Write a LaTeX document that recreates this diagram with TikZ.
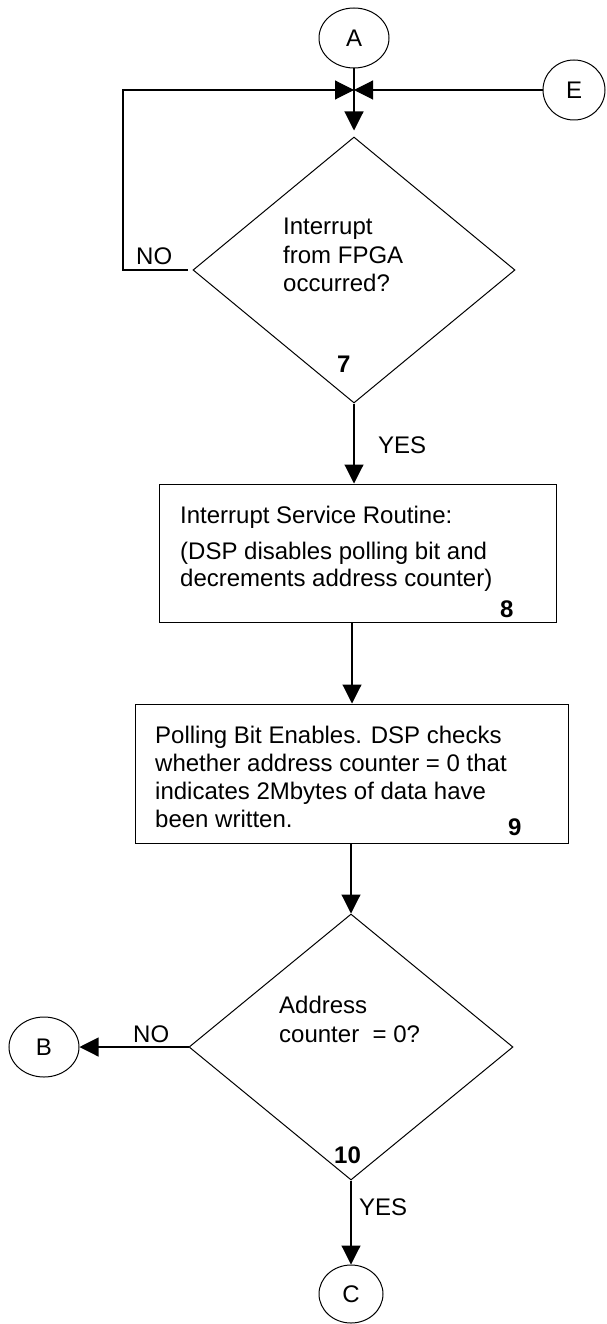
\documentclass[tikz,border=0pt]{standalone}
\usepackage{fontspec}
\setmainfont{Liberation Sans}
\usetikzlibrary{shapes.geometric,arrows.meta}
\begin{document}
\begin{tikzpicture}[x=1pt,y=-1pt,
  every node/.style={font=\fontsize{24}{28}\selectfont},
  conn/.style={ellipse,draw,line width=1pt,minimum width=70pt,minimum height=60pt,inner sep=0pt},
  decision/.style={diamond,draw,line width=1pt,minimum width=324pt,minimum height=266pt,inner sep=0pt},
  procbox/.style={rectangle,draw,line width=1pt,inner sep=0pt},
  txt/.style={anchor=base west,inner sep=0pt},
  num/.style={anchor=base west,inner sep=0pt,font=\fontsize{24}{28}\selectfont\bfseries},
  flow/.style={line width=1.1pt,-{Triangle[length=19pt,width=19pt]}},
  plain/.style={line width=1pt}]
\useasboundingbox (0,0) rectangle (607,1324);

% connectors (circles)
\node[conn] (A) at (354,38) {A};
\node[conn,minimum width=62pt] (E) at (574,90) {E};
\node[conn] (B) at (44,1047) {B};
\node[conn,minimum width=64pt,minimum height=58pt] (C) at (351,1294) {C};

% junction and loop corner
\coordinate (j) at (354,90);
\coordinate (lp) at (123,90);
\coordinate (ax) at (352,0);

% decisions
\node[decision,minimum width=322pt] (d1) at (354,270) {};
\node[decision] (d2) at (351,1047) {};

% process boxes
\node[procbox,minimum width=397pt,minimum height=138pt] (b8) at (357.5,553) {};
\node[procbox,minimum width=433pt,minimum height=139pt] (b9) at (351.5,773.5) {};

% texts of decision 7
\node[txt] (t1a) at (283,235) {Interrupt};
\node[txt] (t1b) at (283,263) {from FPGA};
\node[txt] (t1c) at (283,291) {occurred?};
\node[num] (n7) at (337,372) {7};
\node[txt] (no1) at (136,265) {NO};
\node[txt] (yes1) at (378,453) {YES};

% texts of box 8
\node[txt] (t8a) at (180,523) {Interrupt Service Routine:};
\node[txt] (t8b) at (180,559) {(DSP disables polling bit and};
\node[txt] (t8c) at (180,586) {decrements address counter)};
\node[num] (n8) at (500,617) {8};

% texts of box 9
\node[txt] (t9a) at (155,743) {Polling Bit Enables. DSP checks};
\node[txt] (t9b) at (155,771) {whether address counter = 0 that};
\node[txt] (t9c) at (155,799) {indicates 2Mbytes of data have};
\node[txt] (t9d) at (155,827) {been written.};
\node[num] (n9) at (508,835) {9};

% texts of decision 10
\node[txt] (t10a) at (279,1013) {Address};
\node[txt] (t10b) at (279,1042) {counter\ \ = 0?};
\node[num] (n10) at (334,1163) {10};
\node[txt] (no2) at (133,1042) {NO};
\node[txt] (yes2) at (359,1215) {YES};

% flow lines
\draw[flow,shorten >=6pt] (A.south) -- (d1.north);
\draw[flow,shorten <=5pt] (d1.west) -| (lp) -- (j);
\draw[flow] (E.west) -- (j);
\draw[flow] (d1.south) -- (d1.south |- b8.north);
\draw[flow] (b8.south -| ax) -- (b9.north -| ax);
\draw[flow] (b9.south -| d2.north) -- (d2.north);
\draw[flow] (d2.west) -- (B.east);
\draw[flow] (d2.south) -- (C.north);
\end{tikzpicture}
\end{document}
